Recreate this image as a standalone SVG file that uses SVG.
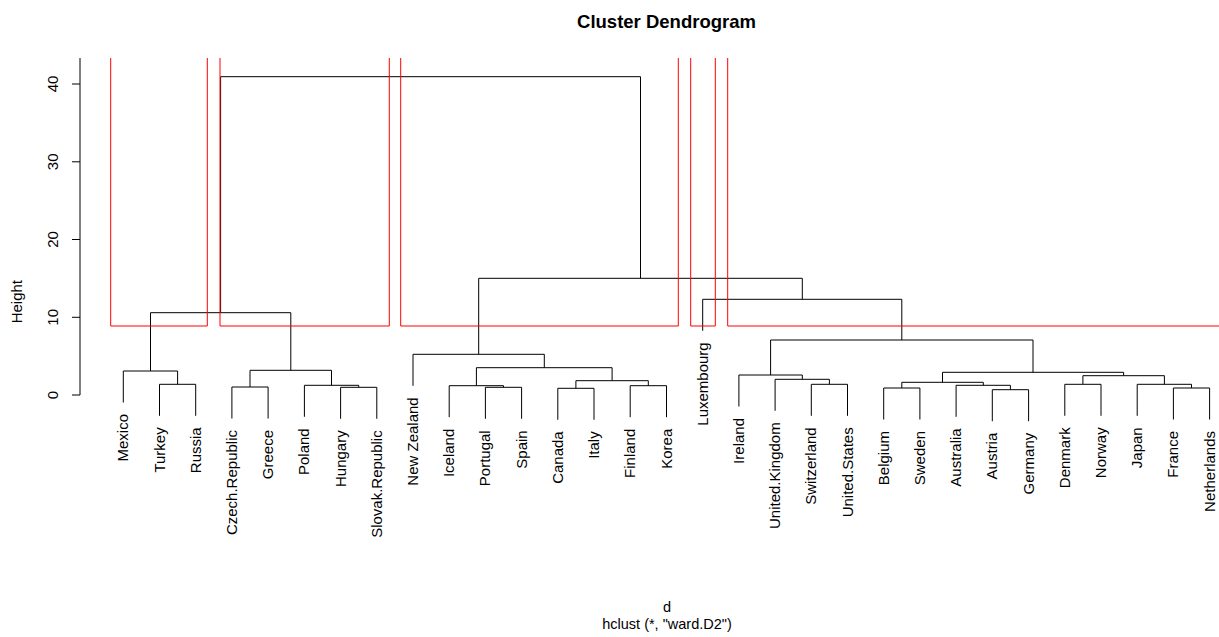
<svg xmlns="http://www.w3.org/2000/svg" width="1219" height="637" viewBox="0 0 1219 637">
<style>
text{font-family:"Liberation Sans",Arial,sans-serif;fill:#000}
.lbl{font-size:15px;text-anchor:end}
.tick{font-size:15px;text-anchor:middle}
.title{font-size:18.5px;font-weight:bold;text-anchor:middle}
.sub{font-size:14.5px;text-anchor:middle}
.br{fill:none;stroke:#000;stroke-width:1}
.rc{fill:none;stroke:#ff0000;stroke-width:1}
.ax{fill:none;stroke:#000;stroke-width:1}
</style>
<rect width="1219" height="637" fill="#fff"/>
<text class="title" x="666.5" y="28">Cluster Dendrogram</text>
<g id="axis">
<path class="ax" d="M80,58 V395 M72,395 H80 M72,317.3 H80 M72,239.5 H80 M72,161.8 H80 M72,84 H80"/>
<text class="tick" transform="translate(57.5,395) rotate(-90)">0</text>
<text class="tick" transform="translate(57.5,317.3) rotate(-90)">10</text>
<text class="tick" transform="translate(57.5,239.5) rotate(-90)">20</text>
<text class="tick" transform="translate(57.5,161.8) rotate(-90)">30</text>
<text class="tick" transform="translate(57.5,84) rotate(-90)">40</text>
<text class="tick" transform="translate(22,301.7) rotate(-90)">Height</text>
</g>
<g id="connectors">
<path class="br" d="M159.5,415.8 V384.3 H195.7 V415.8"/>
<path class="br" d="M123.3,402.5 V371 H177.6 V384.3"/>
<path class="br" d="M231.9,418.5 V387 H268.1 V418.5"/>
<path class="br" d="M340.6,418.8 V387.3 H376.8 V418.8"/>
<path class="br" d="M304.4,416.8 V385.3 H358.7 V387.3"/>
<path class="br" d="M250,387 V370.3 H331.5 V385.3"/>
<path class="br" d="M150.5,371 V312.7 H290.8 V370.3"/>
<path class="br" d="M485.4,418.8 V387.3 H521.6 V418.8"/>
<path class="br" d="M449.2,417.2 V385.7 H503.5 V387.3"/>
<path class="br" d="M557.8,419.8 V388.3 H594 V419.8"/>
<path class="br" d="M630.2,417.2 V385.7 H666.5 V417.2"/>
<path class="br" d="M575.9,388.3 V380.7 H648.3 V385.7"/>
<path class="br" d="M476.4,385.7 V367.7 H612.1 V380.7"/>
<path class="br" d="M413,385.8 V354.3 H544.3 V367.7"/>
<path class="br" d="M811.3,415.8 V384.3 H847.5 V415.8"/>
<path class="br" d="M775.1,410.8 V379.3 H829.4 V384.3"/>
<path class="br" d="M738.9,406.5 V375 H802.3 V379.3"/>
<path class="br" d="M883.7,419.5 V388 H919.9 V419.5"/>
<path class="br" d="M992.3,421.2 V389.7 H1028.6 V421.2"/>
<path class="br" d="M956.1,416.8 V385.3 H1010.4 V389.7"/>
<path class="br" d="M901.8,388 V382.3 H983.3 V385.3"/>
<path class="br" d="M1064.8,415.8 V384.3 H1101 V415.8"/>
<path class="br" d="M1173.4,419.5 V388 H1209.6 V419.5"/>
<path class="br" d="M1137.2,415.8 V384.3 H1191.5 V388"/>
<path class="br" d="M1082.9,384.3 V375.7 H1164.4 V384.3"/>
<path class="br" d="M942.5,382.3 V372.3 H1123.6 V375.7"/>
<path class="br" d="M770.6,375 V340 H1033 V372.3"/>
<path class="br" d="M702.7,330.8 V299.3 H901.8 V340"/>
<path class="br" d="M478.7,354.3 V278.3 H802.3 V299.3"/>
<path class="br" d="M220.6,312.7 V76.7 H640.5 V278.3"/>
</g>
<g id="clusters">
<path class="rc" d="M110.7,58 V326 H207.3 V58"/>
<path class="rc" d="M220,58 V326 H389.3 V58"/>
<path class="rc" d="M400.7,58 V326 H678.3 V58"/>
<path class="rc" d="M690.7,58 V326 H715.3 V58"/>
<path class="rc" d="M727.7,58 V326 H1230"/>
</g>
<g id="leaf-mexico"><text class="lbl" transform="translate(128.3,414) rotate(-90)">Mexico</text></g>
<g id="leaf-turkey"><text class="lbl" transform="translate(164.5,427.3) rotate(-90)">Turkey</text></g>
<g id="leaf-russia"><text class="lbl" transform="translate(200.7,427.3) rotate(-90)">Russia</text></g>
<g id="leaf-czech"><text class="lbl" transform="translate(236.9,430) rotate(-90)">Czech.Republic</text></g>
<g id="leaf-greece"><text class="lbl" transform="translate(273.1,430) rotate(-90)">Greece</text></g>
<g id="leaf-poland"><text class="lbl" transform="translate(309.4,428.3) rotate(-90)">Poland</text></g>
<g id="leaf-hungary"><text class="lbl" transform="translate(345.6,430.3) rotate(-90)">Hungary</text></g>
<g id="leaf-slovak"><text class="lbl" transform="translate(381.8,430.3) rotate(-90)">Slovak.Republic</text></g>
<g id="leaf-newzealand"><text class="lbl" transform="translate(418,397.3) rotate(-90)">New Zealand</text></g>
<g id="leaf-iceland"><text class="lbl" transform="translate(454.2,428.7) rotate(-90)">Iceland</text></g>
<g id="leaf-portugal"><text class="lbl" transform="translate(490.4,430.3) rotate(-90)">Portugal</text></g>
<g id="leaf-spain"><text class="lbl" transform="translate(526.6,430.3) rotate(-90)">Spain</text></g>
<g id="leaf-canada"><text class="lbl" transform="translate(562.8,431.3) rotate(-90)">Canada</text></g>
<g id="leaf-italy"><text class="lbl" transform="translate(599,431.3) rotate(-90)">Italy</text></g>
<g id="leaf-finland"><text class="lbl" transform="translate(635.2,428.7) rotate(-90)">Finland</text></g>
<g id="leaf-korea"><text class="lbl" transform="translate(671.5,428.7) rotate(-90)">Korea</text></g>
<g id="leaf-luxembourg"><text class="lbl" transform="translate(707.7,342.3) rotate(-90)">Luxembourg</text></g>
<g id="leaf-ireland"><text class="lbl" transform="translate(743.9,418) rotate(-90)">Ireland</text></g>
<g id="leaf-uk"><text class="lbl" transform="translate(780.1,422.3) rotate(-90)">United.Kingdom</text></g>
<g id="leaf-switzerland"><text class="lbl" transform="translate(816.3,427.3) rotate(-90)">Switzerland</text></g>
<g id="leaf-us"><text class="lbl" transform="translate(852.5,427.3) rotate(-90)">United.States</text></g>
<g id="leaf-belgium"><text class="lbl" transform="translate(888.7,431) rotate(-90)">Belgium</text></g>
<g id="leaf-sweden"><text class="lbl" transform="translate(924.9,431) rotate(-90)">Sweden</text></g>
<g id="leaf-australia"><text class="lbl" transform="translate(961.1,428.3) rotate(-90)">Australia</text></g>
<g id="leaf-austria"><text class="lbl" transform="translate(997.3,432.7) rotate(-90)">Austria</text></g>
<g id="leaf-germany"><text class="lbl" transform="translate(1033.6,432.7) rotate(-90)">Germany</text></g>
<g id="leaf-denmark"><text class="lbl" transform="translate(1069.8,427.3) rotate(-90)">Denmark</text></g>
<g id="leaf-norway"><text class="lbl" transform="translate(1106,427.3) rotate(-90)">Norway</text></g>
<g id="leaf-japan"><text class="lbl" transform="translate(1142.2,427.3) rotate(-90)">Japan</text></g>
<g id="leaf-france"><text class="lbl" transform="translate(1178.4,431) rotate(-90)">France</text></g>
<g id="leaf-netherlands"><text class="lbl" transform="translate(1214.6,431) rotate(-90)">Netherlands</text></g>
<text class="sub" x="667" y="612">d</text>
<text class="sub" x="667" y="628.5">hclust (*, "ward.D2")</text>
</svg>
